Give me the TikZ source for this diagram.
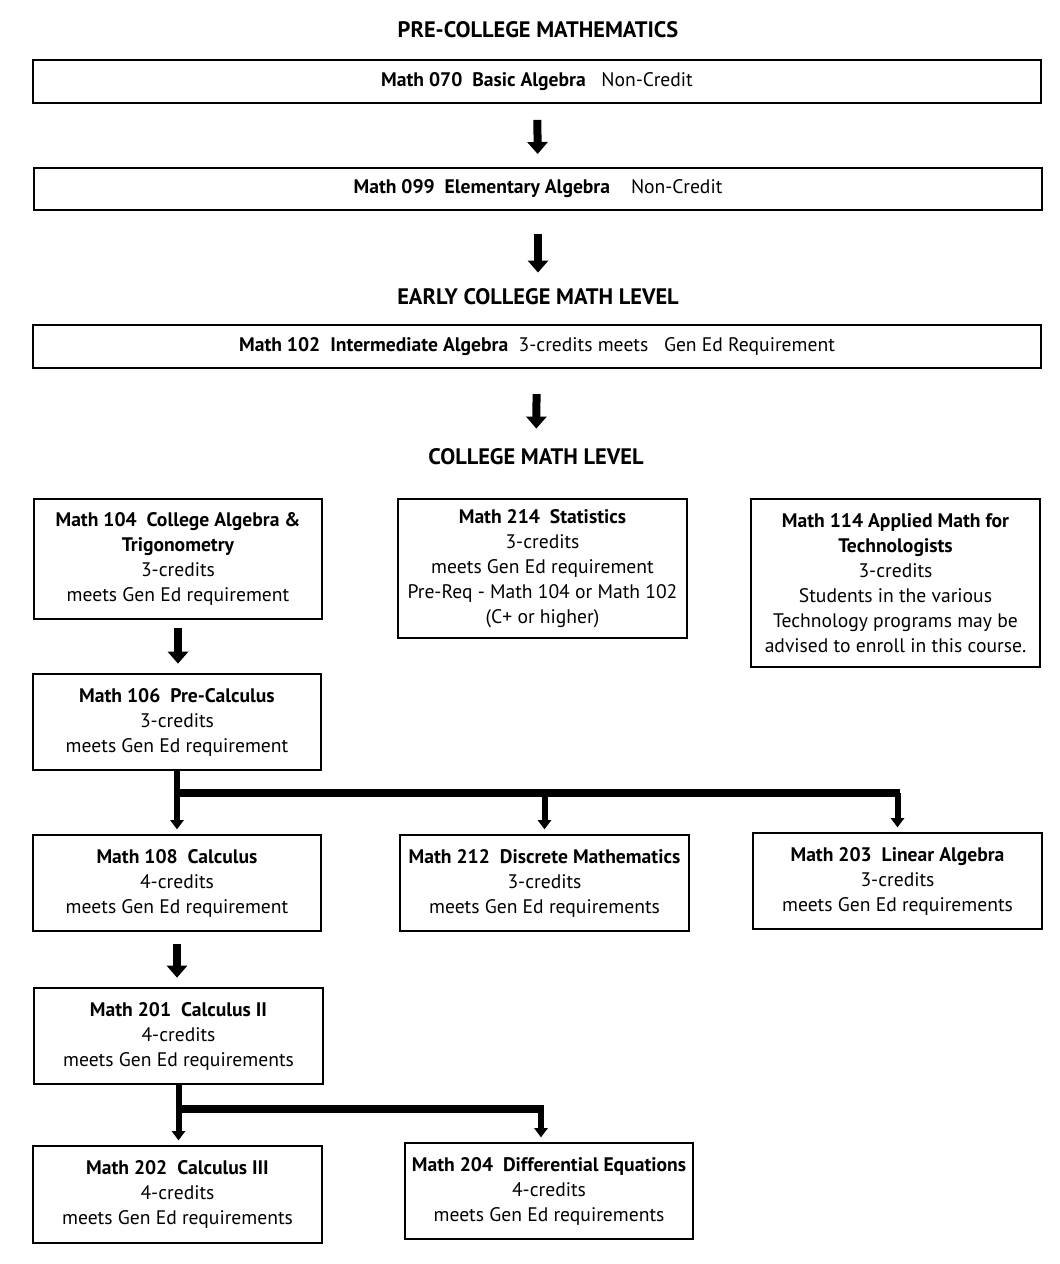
\documentclass[tikz,border=0pt]{standalone}
\usepackage{fontspec}
\setmainfont{PT Sans}
\usetikzlibrary{arrows.meta, positioning}

\begin{document}
\begin{tikzpicture}[x=0.75pt, y=-0.75pt,
    font=\fontsize{14.7}{18.75}\selectfont,
    box/.style={rectangle, draw, line width=1.5pt, align=center, inner sep=0pt},
    wide/.style={box, minimum width=756pt, minimum height=32pt},
    course/.style={box, minimum width=216.5pt, minimum height=72pt},
    level/.style={inner sep=0pt, font=\fontsize{16.8}{20}\selectfont\bfseries},
    arrow/.style={-{Triangle[width=15pt, length=9pt]}, line width=6pt},
    arrowS/.style={-{Triangle[width=10pt, length=7pt]}, line width=4.5pt, shorten >=3.5pt},
    bar/.style={line width=6pt}
]
    \useasboundingbox (0,0) rectangle (1060,1264);

    % Levels
    \node[level] (pre) at (538,30) {PRE-COLLEGE MATHEMATICS};
    \node[level] (early) at (538,297) {EARLY COLLEGE MATH LEVEL};
    \node[level] (college) at (536,457) {COLLEGE MATH LEVEL};

    % Pre-college courses
    \node[wide] (m070) at (537,81.5) {\textbf{Math 070\ \ Basic Algebra}\ \ \ Non-Credit};
    \node[wide] (m099) at (538,189) {\textbf{Math 099\ \ Elementary Algebra}\ \ \ \ Non-Credit};
    \node[wide] (m102) at (537,346.5) {\textbf{Math 102\ \ Intermediate Algebra}\ \ 3-credits meets\ \ \ Gen Ed Requirement};

    % College courses
    \node[course, minimum height=90pt] (m104) at (178,559)
        {\textbf{Math 104\ \ College Algebra \&}\\\textbf{Trigonometry}\\3-credits\\meets Gen Ed requirement};
    \node[course, minimum height=104.25pt] (m214) at (542.5,568.5)
        {\textbf{Math 214\ \ Statistics}\\3-credits\\meets Gen Ed requirement\\Pre-Req - Math 104 or Math 102\\(C+ or higher)};
    \node[course, minimum height=126pt] (m114) at (895.5,583)
        {\textbf{Math 114 Applied Math for}\\\textbf{Technologists}\\3-credits\\Students in the various\\Technology programs may be\\advised to enroll in this course.};
    \node[course] (m106) at (177,722) {\textbf{Math 106\ \ Pre-Calculus}\\3-credits\\meets Gen Ed requirement};
    \node[course] (m108) at (177,883) {\textbf{Math 108\ \ Calculus}\\4-credits\\meets Gen Ed requirement};
    \node[course] (m212) at (544.5,883) {\textbf{Math 212\ \ Discrete Mathematics}\\3-credits\\meets Gen Ed requirements};
    \node[course] (m203) at (897.5,881) {\textbf{Math 203\ \ Linear Algebra}\\3-credits\\meets Gen Ed requirements};
    \node[course] (m201) at (178.5,1036) {\textbf{Math 201\ \ Calculus II}\\4-credits\\meets Gen Ed requirements};
    \node[course, minimum height=72.75pt] (m202) at (177.5,1194.5) {\textbf{Math 202\ \ Calculus III}\\4-credits\\meets Gen Ed requirements};
    \node[course] (m204) at (549,1191) {\textbf{Math 204\ \ Differential Equations}\\4-credits\\meets Gen Ed requirements};

    % Split points
    \coordinate (split106) at (177,793);
    \coordinate (split201) at (178,1109);
    \coordinate (drop204) at (541,1109);

    % Connections
    \draw[arrow, shorten <=12pt, shorten >=9.5pt] (m070) -- (m099);
    \draw[arrow, shorten <=17pt, shorten >=12pt] (m099) -- (early);
    \draw[arrow, shorten <=19pt, shorten >=15pt] (m102) -- (college);
    \draw[arrow, shorten <=6pt, shorten >=7pt] (m104.south) -- (m104.south |- m106.north);
    \draw[arrow, shorten <=9pt, shorten >=7pt] (m108) -- (m108.south |- m201.north);

    \draw[arrowS] (m106) -- (m108);
    \draw[bar] (split106) -- ([xshift=2pt]split106 -| m203.north);
    \draw[arrowS] (split106 -| m212.north) -- (m212);
    \draw[arrowS] (split106 -| m203.north) -- (m203);

    \draw[arrowS] (m201.south) -- (m201.south |- m202.north);
    \draw[bar] (split201) -- ([xshift=2pt]drop204);
    \draw[arrowS] (drop204) -- (drop204 |- m204.north);
\end{tikzpicture}
\end{document}
